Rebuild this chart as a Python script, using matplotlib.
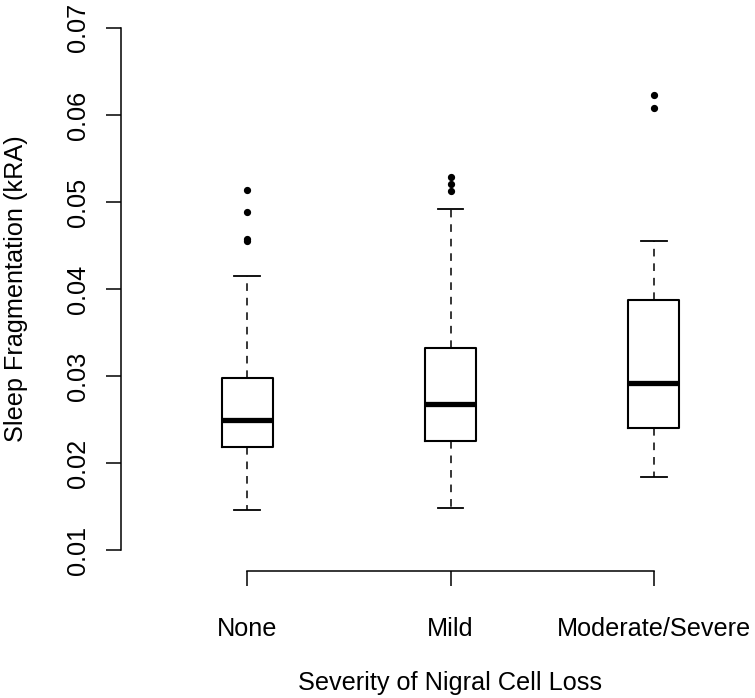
import matplotlib
matplotlib.use("Agg")
import matplotlib.pyplot as plt

# box statistics (Sleep Fragmentation, kRA)
groups = ["None", "Mild", "Moderate/Severe"]
whislo = [0.0146, 0.0148, 0.0184]
q1 = [0.0219, 0.0225, 0.0240]
med = [0.0249, 0.0268, 0.0292]
q3 = [0.0298, 0.0332, 0.0387]
whishi = [0.0415, 0.0492, 0.0455]
fliers = [
    [0.0514, 0.0489, 0.0457, 0.0455],
    [0.0529, 0.0521, 0.0513],
    [0.0623, 0.0608],
]
yticks = [0.01, 0.02, 0.03, 0.04, 0.05, 0.06, 0.07]

plt.rcParams["font.family"] = ["Liberation Sans", "DejaVu Sans"]
W, H = 755, 698
fig = plt.figure(figsize=(W / 100, H / 100), dpi=100)
# plot region in R style: extends a bit past the right edge of the image
ax = fig.add_axes([121 / W, (H - 571) / H, (780 - 121) / W, (571 - 7) / H])

stats = []
for i in range(len(groups)):
    stats.append(dict(med=med[i], q1=q1[i], q3=q3[i], whislo=whislo[i],
                      whishi=whishi[i], fliers=fliers[i], label=groups[i]))

ax.bxp(stats, positions=[1, 2, 3], widths=0.25, capwidths=0.125,
       patch_artist=False,
       boxprops=dict(color="black", linewidth=1.5),
       medianprops=dict(color="black", linewidth=3.8, solid_capstyle="butt"),
       whiskerprops=dict(color="black", linewidth=1.1, linestyle=(0, (5, 4.5))),
       capprops=dict(color="black", linewidth=1.3),
       flierprops=dict(marker="o", markerfacecolor="black",
                       markeredgecolor="black", markersize=4.2))

ax.set_xlim(0.38, 3.62)
ax.set_ylim(0.0076, 0.0724)
ax.set_yticks(yticks)
ax.set_yticklabels([f"{t:.2f}" for t in yticks])
ax.set_xticks([1, 2, 3])
ax.set_xticklabels(groups)

for s in ["top", "right"]:
    ax.spines[s].set_visible(False)
ax.spines["left"].set_bounds(0.01, 0.07)
ax.spines["bottom"].set_bounds(1, 3)
for s in ["left", "bottom"]:
    ax.spines[s].set_linewidth(1.1)

fs = 18.2
ax.tick_params(axis="both", direction="out", length=11, width=1.1,
               labelsize=fs)
ax.tick_params(axis="x", pad=22)
ax.tick_params(axis="y", pad=11, labelrotation=90)
for lab in ax.get_yticklabels():
    lab.set_va("center")

ax.set_xlabel("Severity of Nigral Cell Loss", fontsize=fs, labelpad=22)
ax.set_ylabel("Sleep Fragmentation (kRA)", fontsize=fs, labelpad=28)

fig.savefig("out.png", dpi=100)
